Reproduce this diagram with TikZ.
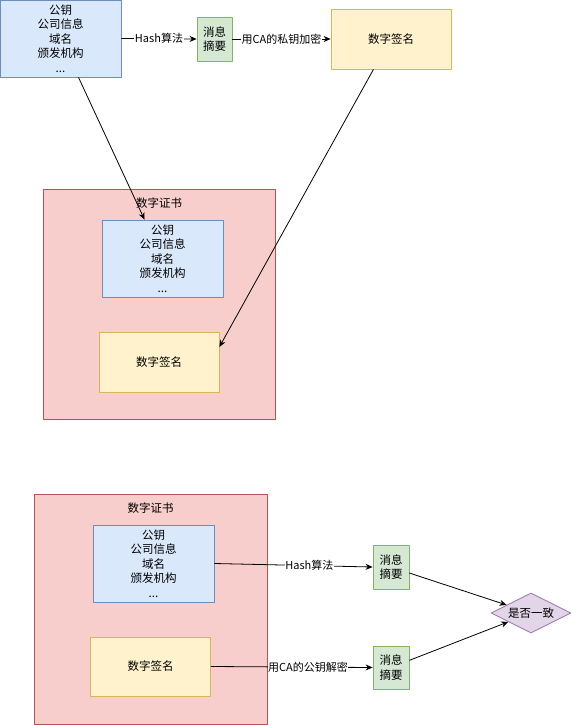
\documentclass[tikz,border=0pt]{standalone}
\usepackage{fontspec}
\setmainfont{Noto Sans CJK SC}
\usetikzlibrary{shapes.geometric,arrows.meta}
\definecolor{infofill}{HTML}{DAE8FC}
\definecolor{infoline}{HTML}{6C8EBF}
\definecolor{digestfill}{HTML}{D5E8D4}
\definecolor{digestline}{HTML}{82B366}
\definecolor{signfill}{HTML}{FFF2CC}
\definecolor{signline}{HTML}{D6B656}
\definecolor{certfill}{HTML}{F8CECC}
\definecolor{certline}{HTML}{B85450}
\definecolor{checkfill}{HTML}{E1D5E7}
\definecolor{checkline}{HTML}{9673A6}
\begin{document}
\begin{tikzpicture}[x=1pt, y=-1pt, line join=round, font=\fontsize{11.5}{14.4}\selectfont,
	>={Stealth[length=7pt,width=6pt]},
	box/.style={draw, rectangle, line width=0.8pt, inner sep=0pt, align=center},
	info/.style={box, fill=infofill, draw=infoline, minimum width=121pt, minimum height=77pt},
	digest/.style={box, fill=digestfill, draw=digestline, minimum width=35pt, minimum height=44pt},
	sign/.style={box, fill=signfill, draw=signline, minimum width=120pt, minimum height=60pt},
	cert/.style={box, fill=certfill, draw=certline, minimum width=232pt, minimum height=230pt},
	check/.style={draw=checkline, fill=checkfill, diamond, aspect=2, line width=0.8pt, inner sep=0pt, minimum width=80pt, minimum height=40pt},
	flow/.style={->, line width=0.8pt},
	lbl/.style={fill=white, inner sep=0.5pt, font=\fontsize{11}{13}\selectfont}]
			\useasboundingbox (0,0) rectangle (572,725);
			\def \certinfo{公钥\\公司信息\\域名\\颁发机构\\...}
			% --- signing
			\node[info] (b1) at (60.5,38.5) {\certinfo};
			\node[digest] (g1) at (214.5,39) {消息\\摘要};
			\node[sign] (y1) at (391,39) {数字签名};
			\node[cert] (r1) at (159,304) {};
			\node (t1) at (159,203) {数字证书};
			\node[info] (b2) at (162.5,258.5) {\certinfo};
			\node[sign] (y2) at (159,362) {数字签名};
			\draw[flow] (b1.east) -- (g1.west) node[lbl, midway] {Hash算法};
			\draw[flow] (g1.east) -- (y1.west) node[lbl, midway] {用CA的私钥加密};
			\draw[flow] (b1) -- (b2);
			\draw[flow] (y1.240) -- (y2.14);
			% --- checking
			\node[cert, minimum width=233pt] (r2) at (150.5,609) {};
			\node (t2) at (150.5,508) {数字证书};
			\node[info] (b3) at (153.5,563.5) {\certinfo};
			\node[sign, minimum height=59pt] (y3) at (150.5,666.5) {数字签名};
			\node[digest, minimum width=36pt] (g3) at (391,567) {消息\\摘要};
			\node[digest, minimum width=36pt, minimum height=43pt] (g4) at (391,667.5) {消息\\摘要};
			\node[check] (d) at (531,613) {是否一致};
			\draw[flow] (b3.east) -- (g3.west) node[lbl, pos=0.6] {Hash算法};
			\draw[flow] (y3.east) -- (g4.west) node[lbl, pos=0.6] {用CA的公钥解密};
			\draw[flow] (g3) -- (d);
			\draw[flow] (g4) -- (d);
\end{tikzpicture}
\end{document}
